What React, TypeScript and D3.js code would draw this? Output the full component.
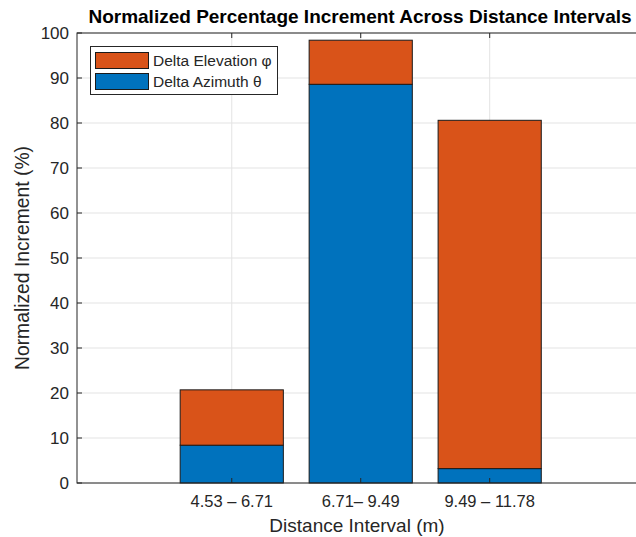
import React from "react";
import * as d3 from "d3";

// Distance intervals (categories) and stacked series values (%)
const categories = ["4.53 – 6.71", "6.71– 9.49", "9.49 – 11.78"];
const azimuth = [8.4, 88.6, 3.2];
const elevation = [12.3, 9.8, 77.4];
const yTicks = [0, 10, 20, 30, 40, 50, 60, 70, 80, 90, 100];
const seriesNames = ["Delta Elevation φ", "Delta Azimuth θ"];

const W = 636;
const H = 537;
const M = { left: 77, right: 638, top: 33, bottom: 483 };
const FONT = "'Liberation Sans', Arial, Helvetica, sans-serif";
const BLUE = "#0072BD";
const ORANGE = "#D95319";
const AXIS = "#262626";
const GRID = "#e3e3e3";

export default function App() {
  const x = d3.scaleLinear().domain([-0.2, 4.15]).range([M.left, M.right]);
  const y = d3.scaleLinear().domain([0, 100]).range([M.bottom, M.top]);
  const bw = x(0.8) - x(0);

  const stackData = categories.map((c, i) => ({ c, az: azimuth[i], el: elevation[i] }));
  const stacked = d3.stack<any>().keys(["az", "el"])(stackData);
  const colors: Record<string, string> = { az: BLUE, el: ORANGE };

  return (
    <svg width={W} height={H} style={{ position: "absolute", left: 0, top: 0, background: "#fff" }}>
      <rect x={0} y={0} width={W} height={H} fill="#fff" />
      {/* grid */}
      {yTicks.map((t) => (
        <line key={"gy" + t} x1={M.left} x2={M.right} y1={y(t)} y2={y(t)} stroke={GRID} strokeWidth={1} />
      ))}
      {categories.map((c, i) => (
        <line key={"gx" + i} x1={x(i + 1)} x2={x(i + 1)} y1={M.top} y2={M.bottom} stroke={GRID} strokeWidth={1} />
      ))}
      {/* bars */}
      {stacked.map((s) =>
        s.map((d, i) => (
          <rect
            key={s.key + i}
            x={x(i + 1) - bw / 2}
            y={y(d[1])}
            width={bw}
            height={y(d[0]) - y(d[1])}
            fill={colors[s.key]}
            stroke="#1a1a1a"
            strokeWidth={1}
          />
        ))
      )}
      {/* axes box */}
      <rect x={M.left} y={M.top} width={M.right - M.left} height={M.bottom - M.top} fill="none" stroke={AXIS} strokeWidth={1} />
      {/* y ticks */}
      {yTicks.map((t) => (
        <g key={"yt" + t}>
          <line x1={M.left} x2={M.left + 5} y1={y(t)} y2={y(t)} stroke={AXIS} />
          <text x={M.left - 8} y={y(t)} dy="0.35em" textAnchor="end" fontFamily={FONT} fontSize={17} fill={AXIS}>
            {t}
          </text>
        </g>
      ))}
      {/* x ticks */}
      {categories.map((c, i) => (
        <g key={"xt" + i}>
          <line x1={x(i + 1)} x2={x(i + 1)} y1={M.bottom} y2={M.bottom - 5} stroke={AXIS} />
          <line x1={x(i + 1)} x2={x(i + 1)} y1={M.top} y2={M.top + 5} stroke={AXIS} />
          <text x={x(i + 1)} y={507} textAnchor="middle" fontFamily={FONT} fontSize={16.5} fill={AXIS}>
            {c}
          </text>
        </g>
      ))}
      {/* labels */}
      <text x={357} y={532} textAnchor="middle" fontFamily={FONT} fontSize={19} fill={AXIS}>
        Distance Interval (m)
      </text>
      <text
        transform={`translate(29,${(M.top + M.bottom) / 2}) rotate(-90)`}
        textAnchor="middle"
        fontFamily={FONT}
        fontSize={19.3}
        fill={AXIS}
      >
        Normalized Increment (%)
      </text>
      <text x={360} y={23} textAnchor="middle" fontFamily={FONT} fontSize={19} fontWeight="bold" fill="#000">
        Normalized Percentage Increment Across Distance Intervals
      </text>
      {/* legend */}
      <g>
        <rect x={90.5} y={46.5} width={187} height={48} fill="#fff" stroke={AXIS} strokeWidth={1} />
        {seriesNames.map((n, i) => (
          <g key={n}>
            <rect x={95.5} y={52.5 + i * 21} width={53} height={16} fill={i === 0 ? ORANGE : BLUE} stroke="#1a1a1a" />
            <text x={153} y={60.5 + i * 21} dy="0.35em" fontFamily={FONT} fontSize={15.5} fill={AXIS}>
              {n}
            </text>
          </g>
        ))}
      </g>
    </svg>
  );
}
